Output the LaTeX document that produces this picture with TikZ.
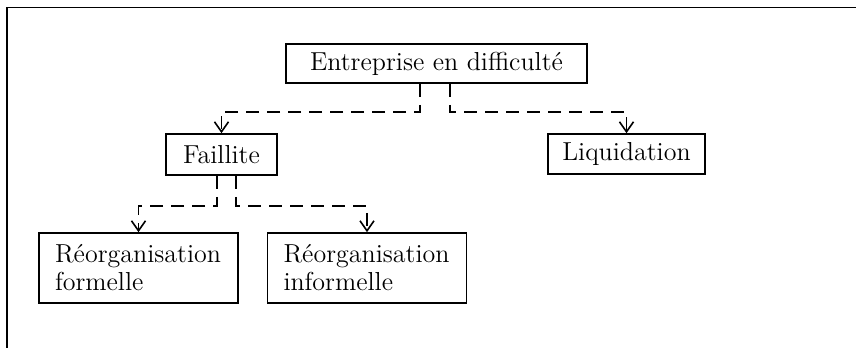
\documentclass[tikz,border=0pt]{standalone}
\usetikzlibrary{arrows.meta}

\tikzset{
  box/.style={draw, line width=0.8pt, inner sep=0pt, font=\fontsize{13}{14}\selectfont},
  link/.style={line width=0.85pt, dash pattern=on 6.5pt off 4pt, -{Straight Barb[length=5pt,width=7pt,line width=0.8pt]}}
}

\begin{document}
\begin{tikzpicture}[x=0.5pt,y=-0.5pt]
        \useasboundingbox (0,0) rectangle (856,348);

        \draw[line width=0.8pt] (856,7.3) -- (6.7,7.3) -- (6.7,348);

        \node[box, minimum width=150.5pt, minimum height=19.5pt] (entreprise) at (436.5,63.5) {Entreprise en difficulté};
        \node[box, minimum width=55.5pt, minimum height=20.5pt] (faillite) at (221.5,154.5) {Faillite};
        \node[box, minimum width=78.5pt, minimum height=20pt] (liquidation) at (626.5,154) {Liquidation};
        \node[box, text width=83.5pt, inner xsep=8pt, minimum height=35pt, align=left] (formelle) at (138.5,268) {Réorganisation\\formelle};
        \node[box, text width=83.5pt, inner xsep=8pt, minimum height=35pt, align=left] (informelle) at (367,268) {Réorganisation\\informelle};

        \draw[link] ([xshift=-8.25pt]entreprise.south) -- ++(0,28) -| (faillite.north);
        \draw[link] ([xshift=6.75pt]entreprise.south) -- ++(0,28) -| (liquidation.north);

        \draw[link] ([xshift=-2.25pt]faillite.south) -- ++(0,30) -| (formelle.north);
        \draw[link] ([xshift=7.25pt]faillite.south) -- ++(0,30) -| (informelle.north);

    \end{tikzpicture}
\end{document}
